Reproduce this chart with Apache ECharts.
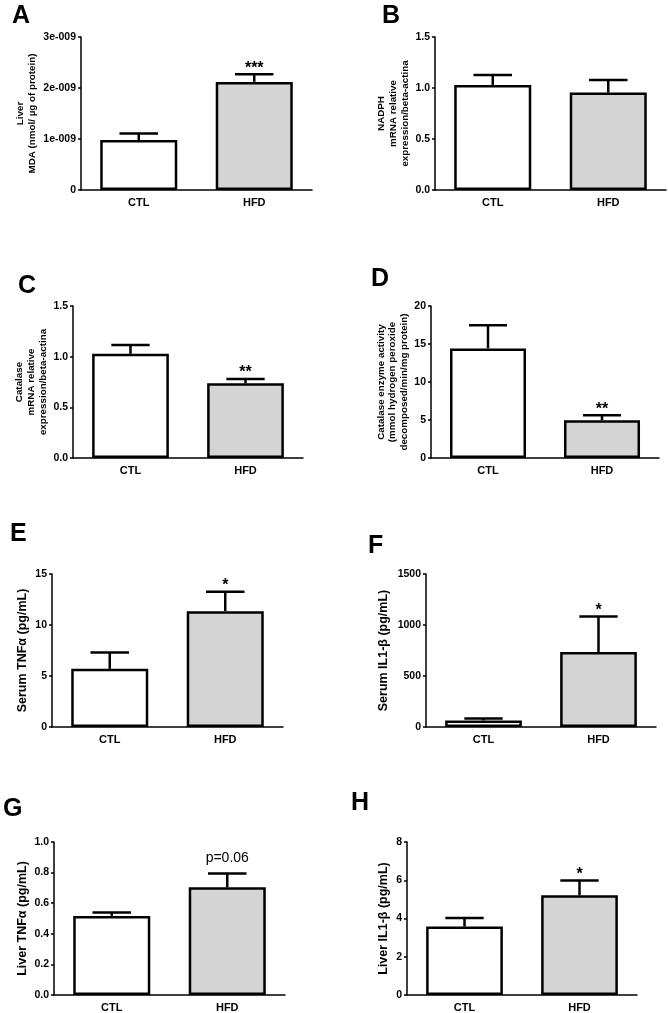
<!DOCTYPE html>
<html><head><meta charset="utf-8">
<script src="https://cdn.jsdelivr.net/npm/echarts@6/dist/echarts.min.js"></script>
<style>html,body{margin:0;padding:0;background:#fff}#c{width:668px;height:1013px}</style>
</head><body><div id="c"></div>
<script>
// ---- data ----
const categories = ['CTL', 'HFD'];
const A_mean = [0.98e-9, 2.12e-9];   const A_sem = [0.13e-9, 0.15e-9];
const B_mean = [1.03, 0.955];        const B_sem = [0.097, 0.123];
const C_mean = [1.028, 0.737];       const C_sem = [0.086, 0.043];
const D_mean = [14.42, 4.98];        const D_sem = [3.05, 0.66];
const E_mean = [5.70, 11.36];        const E_sem = [1.61, 1.90];
const F_mean = [64, 735];            const F_sem = [20, 348];
const G_mean = [0.517, 0.705];       const G_sem = [0.023, 0.089];
const H_mean = [3.58, 5.22];         const H_sem = [0.45, 0.77];
const A_ann = ['', '***']; const B_ann = ['', ''];   const C_ann = ['', '**']; const D_ann = ['', '**'];
const E_ann = ['', '*'];   const F_ann = ['', '*'];  const G_ann = ['', 'p=0.06']; const H_ann = ['', '*'];
const A_ticks = ['0', '1e-009', '2e-009', '3e-009'];
const B_ticks = ['0.0', '0.5', '1.0', '1.5'];
const C_ticks = ['0.0', '0.5', '1.0', '1.5'];
const D_ticks = ['0', '5', '10', '15', '20'];
const E_ticks = ['0', '5', '10', '15'];
const F_ticks = ['0', '500', '1000', '1500'];
const G_ticks = ['0.0', '0.2', '0.4', '0.6', '0.8', '1.0'];
const H_ticks = ['0', '2', '4', '6', '8'];
const A_title = 'Liver\nMDA (nmol/ µg of protein)';
const B_title = 'NADPH\nmRNA relative\nexpression/beta-actina';
const C_title = 'Catalase\nmRNA relative\nexpression/beta-actina';
const D_title = 'Catalase enzyme activity\n(mmol hydrogen peroxide\ndecomposed/min/mg protein)';
const E_title = 'Serum TNFα (pg/mL)';
const F_title = 'Serum IL1-β (pg/mL)';
const G_title = 'Liver TNFα (pg/mL)';
const H_title = 'Liver IL1-β (pg/mL)';
const panelLetters = ['A','B','C','D','E','F','G','H'];

// ---- layout / style ----
const FONT = '"Liberation Sans", Arial, sans-serif';
const barColors = ['#ffffff', '#d4d4d4'];
const panels = [
  {mean:A_mean, sem:A_sem, ann:A_ann, ticks:A_ticks, max:3e-9, interval:1e-9, title:A_title, small:true, gap:43,
   grid:{left:81, top:37, width:231, height:153}, letter:[12,5]},
  {mean:B_mean, sem:B_sem, ann:B_ann, ticks:B_ticks, max:1.5, interval:0.5, title:B_title, small:true, gap:24,
   grid:{left:435, top:37, width:231, height:153}, letter:[382,5]},
  {mean:C_mean, sem:C_sem, ann:C_ann, ticks:C_ticks, max:1.5, interval:0.5, title:C_title, small:true, gap:24,
   grid:{left:73, top:306, width:230, height:152}, letter:[18,275]},
  {mean:D_mean, sem:D_sem, ann:D_ann, ticks:D_ticks, max:20, interval:5, title:D_title, small:true, gap:20,
   grid:{left:431, top:306, width:228, height:152}, letter:[371,268]},
  {mean:E_mean, sem:E_sem, ann:E_ann, ticks:E_ticks, max:15, interval:5, title:E_title, small:false, gap:23,
   grid:{left:52, top:574, width:231, height:153}, letter:[10,523]},
  {mean:F_mean, sem:F_sem, ann:F_ann, ticks:F_ticks, max:1500, interval:500, title:F_title, small:false, gap:36,
   grid:{left:426, top:574, width:230, height:153}, letter:[368,535]},
  {mean:G_mean, sem:G_sem, ann:G_ann, ticks:G_ticks, max:1.0, interval:0.2, title:G_title, small:false, gap:25,
   grid:{left:54, top:842, width:231, height:153}, letter:[3,798]},
  {mean:H_mean, sem:H_sem, ann:H_ann, ticks:H_ticks, max:8, interval:2, title:H_title, small:false, gap:17,
   grid:{left:407, top:842, width:230, height:153}, letter:[351,792]},
];

const option = {animation:false, backgroundColor:'#fff', grid:[], xAxis:[], yAxis:[], series:[], graphic:[]};
panels.forEach((p, gi) => {
  option.grid.push(Object.assign({containLabel:false}, p.grid));
  option.xAxis.push({
    type:'category', gridIndex:gi, data:categories,
    axisLine:{lineStyle:{color:'#000', width:1.5}}, axisTick:{show:false},
    axisLabel:{color:'#000', fontFamily:FONT, fontWeight:'bold', fontSize:11, margin:7}
  });
  const ticks = p.ticks;
  option.yAxis.push({
    type:'value', gridIndex:gi, min:0, max:p.max, interval:p.interval,
    splitLine:{show:false},
    axisLine:{show:true, lineStyle:{color:'#000', width:1.5}},
    axisTick:{show:true, length:3, lineStyle:{color:'#000', width:1.5}},
    axisLabel:{color:'#000', fontFamily:FONT, fontWeight:'bold', fontSize:10.5, margin:5,
      formatter:(v, i) => ticks[i] !== undefined ? ticks[i] : ''},
    name:p.title, nameLocation:'middle', nameRotate:90, nameGap:p.gap,
    nameTextStyle: p.small
      ? {color:'#000', fontFamily:FONT, fontWeight:'bold', fontSize:9.8, lineHeight:11.8, align:'center'}
      : {color:'#000', fontFamily:FONT, fontWeight:'bold', fontSize:12.5, align:'center'}
  });
  option.series.push({
    type:'bar', xAxisIndex:gi, yAxisIndex:gi, barWidth:'66.7%', z:2,
    data:p.mean.map((v, i) => ({value:v, itemStyle:{color:barColors[i], borderColor:'#000', borderWidth:2.5}}))
  });
  const ann = p.ann;
  option.series.push({
    type:'custom', xAxisIndex:gi, yAxisIndex:gi, z:5,
    data:p.mean.map((v, i) => [i, v, v + p.sem[i]]),
    renderItem:(params, api) => {
      const base = api.coord([api.value(0), api.value(1)]);
      const top = api.coord([api.value(0), api.value(2)]);
      const band = api.size([1, 0])[0];
      const hw = band * 0.667 / 4;
      const children = [
        {type:'line', shape:{x1:base[0], y1:base[1], x2:top[0], y2:top[1]}, style:{stroke:'#000', lineWidth:2.5}},
        {type:'line', shape:{x1:top[0]-hw, y1:top[1], x2:top[0]+hw, y2:top[1]}, style:{stroke:'#000', lineWidth:2.5}}
      ];
      const a = ann[params.dataIndex];
      if (a) {
        const star = a.charAt(0) === '*';
        children.push({type:'text', style:{
          text:a, x:top[0], y:top[1] - (star ? 6 : 15), align:'center', verticalAlign:'middle',
          fill:'#000', fontFamily:FONT, fontSize: star ? 16 : 14, fontWeight: star ? 'bold' : 'normal'}});
      }
      return {type:'group', children};
    }
  });
  option.graphic.push({type:'text', left:p.letter[0], top:p.letter[1]-1,
    style:{text:panelLetters[gi], fill:'#000', fontFamily:FONT, fontSize:25, fontWeight:'bold'}});
});

const chart = echarts.init(document.getElementById('c'), null, {renderer:'canvas'});
chart.setOption(option);
</script>
</body></html>
